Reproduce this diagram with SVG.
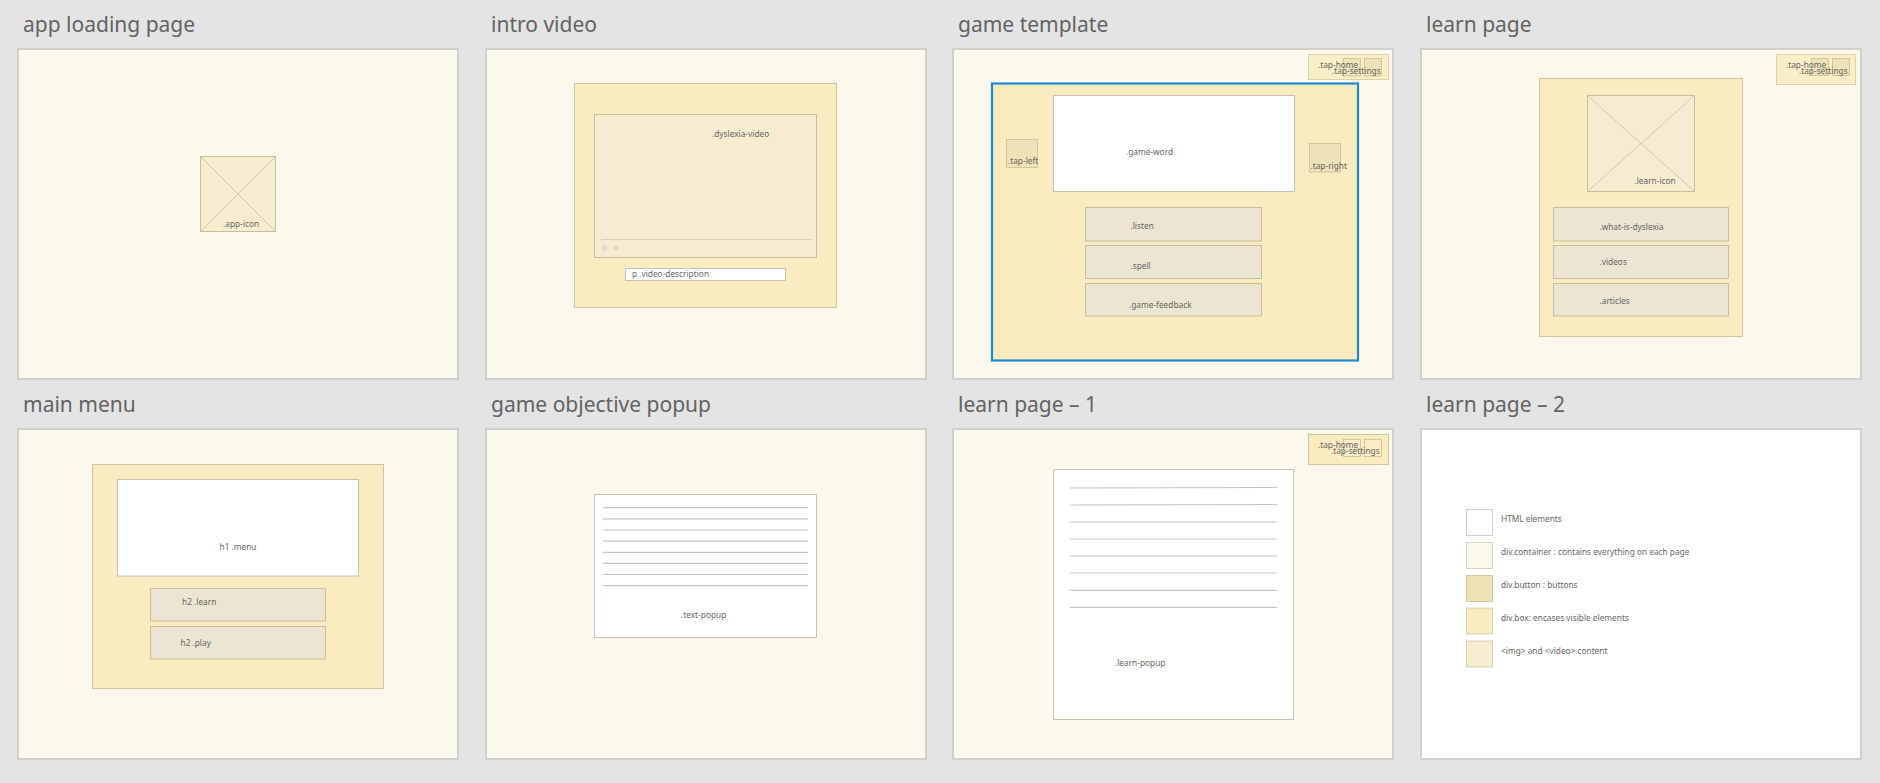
<svg xmlns="http://www.w3.org/2000/svg" width="1880" height="783" viewBox="0 0 1880 783">
  <style>
    .title { font-family: "Noto Sans", "Open Sans", sans-serif; font-size: 21px; fill: #636363; }
    .lbl { font-family: "Noto Sans", "Liberation Sans", sans-serif; font-size: 8.3px; fill: #666; }
    .page { fill: #fcf8eb; stroke: #d2d0cb; stroke-width: 2; }
    .box { fill: #f9ecc0; stroke: #cfc3a0; stroke-width: 1; }
    .img { fill: #f6edd1; stroke: #c9bc98; stroke-width: 1; }
    .html { fill: #ffffff; stroke: #c8c2b4; stroke-width: 1; }
    .btn { fill: #ece5d3; stroke: #c9bd9c; stroke-width: 1; }
    .sq { fill: #efe2b9; stroke: #cabd95; stroke-width: 0.8; }
    .tapbox { fill: #f8eec8; stroke: #ddd2a6; stroke-width: 1; }
    .cross { stroke: #cabf9e; stroke-width: 0.8; fill: none; }
    .rule { stroke: #c4c4c4; stroke-width: 1.2; }
  </style>

  <!-- backdrop -->
  <rect x="0" y="0" width="1880" height="783" fill="#e4e4e4"/>

  <!-- app loading page -->
  <g id="app-loading-page">
    <text class="title" x="23" y="32">app loading page</text>
    <rect class="page" x="18" y="49" width="440" height="330"/>
    <g id="app-icon">
      <rect class="img" x="200.5" y="156.5" width="75" height="75"/>
      <path class="cross" d="M200.5 156.5 L275.5 231.5 M275.5 156.5 L200.5 231.5"/>
      <text class="lbl" x="223" y="227">.app-icon</text>
    </g>
  </g>

  <!-- intro video -->
  <g id="intro-video">
    <text class="title" x="491" y="32">intro video</text>
    <rect class="page" x="486" y="49" width="440" height="330"/>
    <rect class="box" x="574.5" y="83.5" width="262" height="224"/>
    <g id="dyslexia-video">
      <rect class="img" x="594.5" y="114.5" width="222" height="143"/>
      <text class="lbl" x="712" y="137">.dyslexia-video</text>
      <line x1="601" y1="239.5" x2="811" y2="239.5" stroke="#d8ceb0" stroke-width="1"/>
      <path d="M603.5 245 L603.5 251 L607 248 Z" fill="none" stroke="#c9c0a8" stroke-width="0.7"/>
      <path d="M617 245 L617 251 M617 248 L614.5 246.5 L614.5 249.5 Z" fill="none" stroke="#c9c0a8" stroke-width="0.7"/>
    </g>
    <g id="video-description">
      <rect class="html" x="625.5" y="268.5" width="160" height="12"/>
      <text class="lbl" x="632" y="277">p .video-description</text>
    </g>
  </g>

  <!-- game template -->
  <g id="game-template">
    <text class="title" x="958" y="32">game template</text>
    <rect class="page" x="953" y="49" width="440" height="330"/>
    <g id="game-tap-nav">
      <rect class="tapbox" x="1308.5" y="54.5" width="80" height="25"/>
      <rect class="sq" x="1343.5" y="58.5" width="17" height="17.5"/>
      <rect class="sq" x="1364.5" y="58.5" width="17" height="17.5"/>
      <text class="lbl" x="1318" y="68">.tap-home</text>
      <text class="lbl" x="1332" y="74">.tap-settings</text>
    </g>
    <rect x="992" y="83.5" width="366" height="277" fill="#f9ecc0" stroke="#1e88d8" stroke-width="2.2"/>
    <g id="game-word">
      <rect class="html" x="1053.5" y="95.5" width="241" height="96"/>
      <text class="lbl" x="1126" y="155">.game-word</text>
    </g>
    <g id="tap-left">
      <rect class="sq" x="1006.5" y="139.5" width="31" height="28"/>
      <text class="lbl" x="1008" y="164">.tap-left</text>
    </g>
    <g id="tap-right">
      <rect class="sq" x="1309.5" y="143.5" width="31" height="28.5"/>
      <text class="lbl" x="1310.5" y="169">.tap-right</text>
    </g>
    <g id="listen">
      <rect class="btn" x="1085.5" y="207.5" width="176" height="33.5"/>
      <text class="lbl" x="1130.5" y="229">.listen</text>
    </g>
    <g id="spell">
      <rect class="btn" x="1085.5" y="245.5" width="176" height="33"/>
      <text class="lbl" x="1130.5" y="269">.spell</text>
    </g>
    <g id="game-feedback">
      <rect class="btn" x="1085.5" y="283.5" width="176" height="32.5"/>
      <text class="lbl" x="1129" y="307.5">.game-feedback</text>
    </g>
  </g>

  <!-- learn page -->
  <g id="learn-page">
    <text class="title" x="1426" y="32">learn page</text>
    <rect class="page" x="1421" y="49" width="440" height="330"/>
    <g id="learn-tap-nav">
      <rect class="tapbox" x="1776.5" y="54.5" width="79" height="30"/>
      <rect class="sq" x="1811.5" y="58.5" width="17" height="17"/>
      <rect class="sq" x="1832.5" y="58.5" width="17" height="17"/>
      <text class="lbl" x="1786" y="68">.tap-home</text>
      <text class="lbl" x="1799" y="74">.tap-settings</text>
    </g>
    <rect class="box" x="1539.5" y="78.5" width="203" height="258"/>
    <g id="learn-icon">
      <rect class="img" x="1587.5" y="95.5" width="107" height="96"/>
      <path class="cross" d="M1587.5 95.5 L1694.5 191.5 M1694.5 95.5 L1587.5 191.5"/>
      <text class="lbl" x="1634.5" y="183.5">.learn-icon</text>
    </g>
    <g id="what-is-dyslexia">
      <rect class="btn" x="1553.5" y="207.5" width="175" height="33.5"/>
      <text class="lbl" x="1599.5" y="230">.what-is-dyslexia</text>
    </g>
    <g id="videos">
      <rect class="btn" x="1553.5" y="245.5" width="175" height="33"/>
      <text class="lbl" x="1599.5" y="265">.videos</text>
    </g>
    <g id="articles">
      <rect class="btn" x="1553.5" y="283.5" width="175" height="32.5"/>
      <text class="lbl" x="1599.5" y="304">.articles</text>
    </g>
  </g>

  <!-- main menu -->
  <g id="main-menu">
    <text class="title" x="23" y="412">main menu</text>
    <rect class="page" x="18" y="429" width="440" height="330"/>
    <rect class="box" x="92.5" y="464.5" width="291" height="224"/>
    <g id="menu-h1">
      <rect class="html" x="117.5" y="479.5" width="241" height="96.5"/>
      <text class="lbl" x="219.5" y="549.5">h1 .menu</text>
    </g>
    <g id="menu-learn">
      <rect class="btn" x="150.5" y="588.5" width="175" height="32.5"/>
      <text class="lbl" x="182" y="604.5">h2 .learn</text>
    </g>
    <g id="menu-play">
      <rect class="btn" x="150.5" y="626.5" width="175" height="32.5"/>
      <text class="lbl" x="180.5" y="646">h2 .play</text>
    </g>
  </g>

  <!-- game objective popup -->
  <g id="game-objective-popup">
    <text class="title" x="491" y="412">game objective popup</text>
    <rect class="page" x="486" y="429" width="440" height="330"/>
    <g id="text-popup">
      <rect class="html" x="594.5" y="494.5" width="222" height="143"/>
      <g class="rule">
        <line x1="603" y1="507.7" x2="808" y2="507.7"/>
        <line x1="603" y1="518.9" x2="808" y2="518.9"/>
        <line x1="603" y1="530" x2="808" y2="530"/>
        <line x1="603" y1="541.2" x2="808" y2="541.2"/>
        <line x1="603" y1="552.3" x2="808" y2="552.3"/>
        <line x1="603" y1="563.4" x2="808" y2="563.4"/>
        <line x1="603" y1="574.5" x2="808" y2="574.5"/>
        <line x1="603" y1="585.7" x2="808" y2="585.7"/>
      </g>
      <text class="lbl" x="681" y="618">.text-popup</text>
    </g>
  </g>

  <!-- learn page – 1 -->
  <g id="learn-page-1">
    <text class="title" x="958" y="412">learn page – 1</text>
    <rect class="page" x="953" y="429" width="440" height="330"/>
    <g id="learn1-tap-nav">
      <rect class="box" x="1308.5" y="434.5" width="80" height="30"/>
      <rect x="1343.5" y="439.5" width="17" height="17" fill="#f9edc6" stroke="#cabd95" stroke-width="0.8"/>
      <rect x="1364.5" y="439.5" width="17" height="17" fill="#f9edc6" stroke="#cabd95" stroke-width="0.8"/>
      <text class="lbl" x="1318" y="447.5">.tap-home</text>
      <text class="lbl" x="1331" y="454">.tap-settings</text>
    </g>
    <g id="learn-popup">
      <rect class="html" x="1053.5" y="469.5" width="240" height="250"/>
      <g class="rule">
        <line x1="1070" y1="488" x2="1277" y2="487.5"/>
        <line x1="1070" y1="505" x2="1277" y2="504.5"/>
        <line x1="1070" y1="522" x2="1277" y2="522"/>
        <line x1="1070" y1="539" x2="1277" y2="539"/>
        <line x1="1070" y1="556" x2="1277" y2="556"/>
        <line x1="1070" y1="573" x2="1277" y2="573"/>
        <line x1="1070" y1="590.3" x2="1277" y2="590.3"/>
        <line x1="1070" y1="607.3" x2="1277" y2="607.3"/>
      </g>
      <text class="lbl" x="1115" y="666">.learn-popup</text>
    </g>
  </g>

  <!-- learn page – 2 : colour key -->
  <g id="learn-page-2">
    <text class="title" x="1426" y="412">learn page – 2</text>
    <rect x="1421" y="429" width="440" height="330" fill="#ffffff" stroke="#d2d0cb" stroke-width="2"/>
    <g id="key-html">
      <rect x="1466.5" y="509.5" width="26" height="26" fill="#ffffff" stroke="#c8c4bc" stroke-width="0.8"/>
      <text class="lbl" x="1501" y="522">HTML elements</text>
    </g>
    <g id="key-container">
      <rect x="1466.5" y="542.5" width="26" height="26" fill="#fcf8eb" stroke="#cfc9b5" stroke-width="0.8"/>
      <text class="lbl" x="1501" y="555">div.container : contains everything on each page</text>
    </g>
    <g id="key-button">
      <rect x="1466.5" y="575.5" width="26" height="26" fill="#efe1b6" stroke="#cabd95" stroke-width="0.8"/>
      <text class="lbl" x="1501" y="588">div.button : buttons</text>
    </g>
    <g id="key-box">
      <rect x="1466.5" y="608" width="26" height="26" fill="#f9ecc0" stroke="#d2c6a0" stroke-width="0.8"/>
      <text class="lbl" x="1501" y="621">div.box: encases visible elements</text>
    </g>
    <g id="key-media">
      <rect x="1466.5" y="641" width="26" height="26" fill="#f6edd1" stroke="#d2c8aa" stroke-width="0.8"/>
      <text class="lbl" x="1501" y="654">&lt;img&gt; and &lt;video&gt; content</text>
    </g>
  </g>

  <!-- no connectors in this sheet -->
  <g id="connectors"/>
</svg>
